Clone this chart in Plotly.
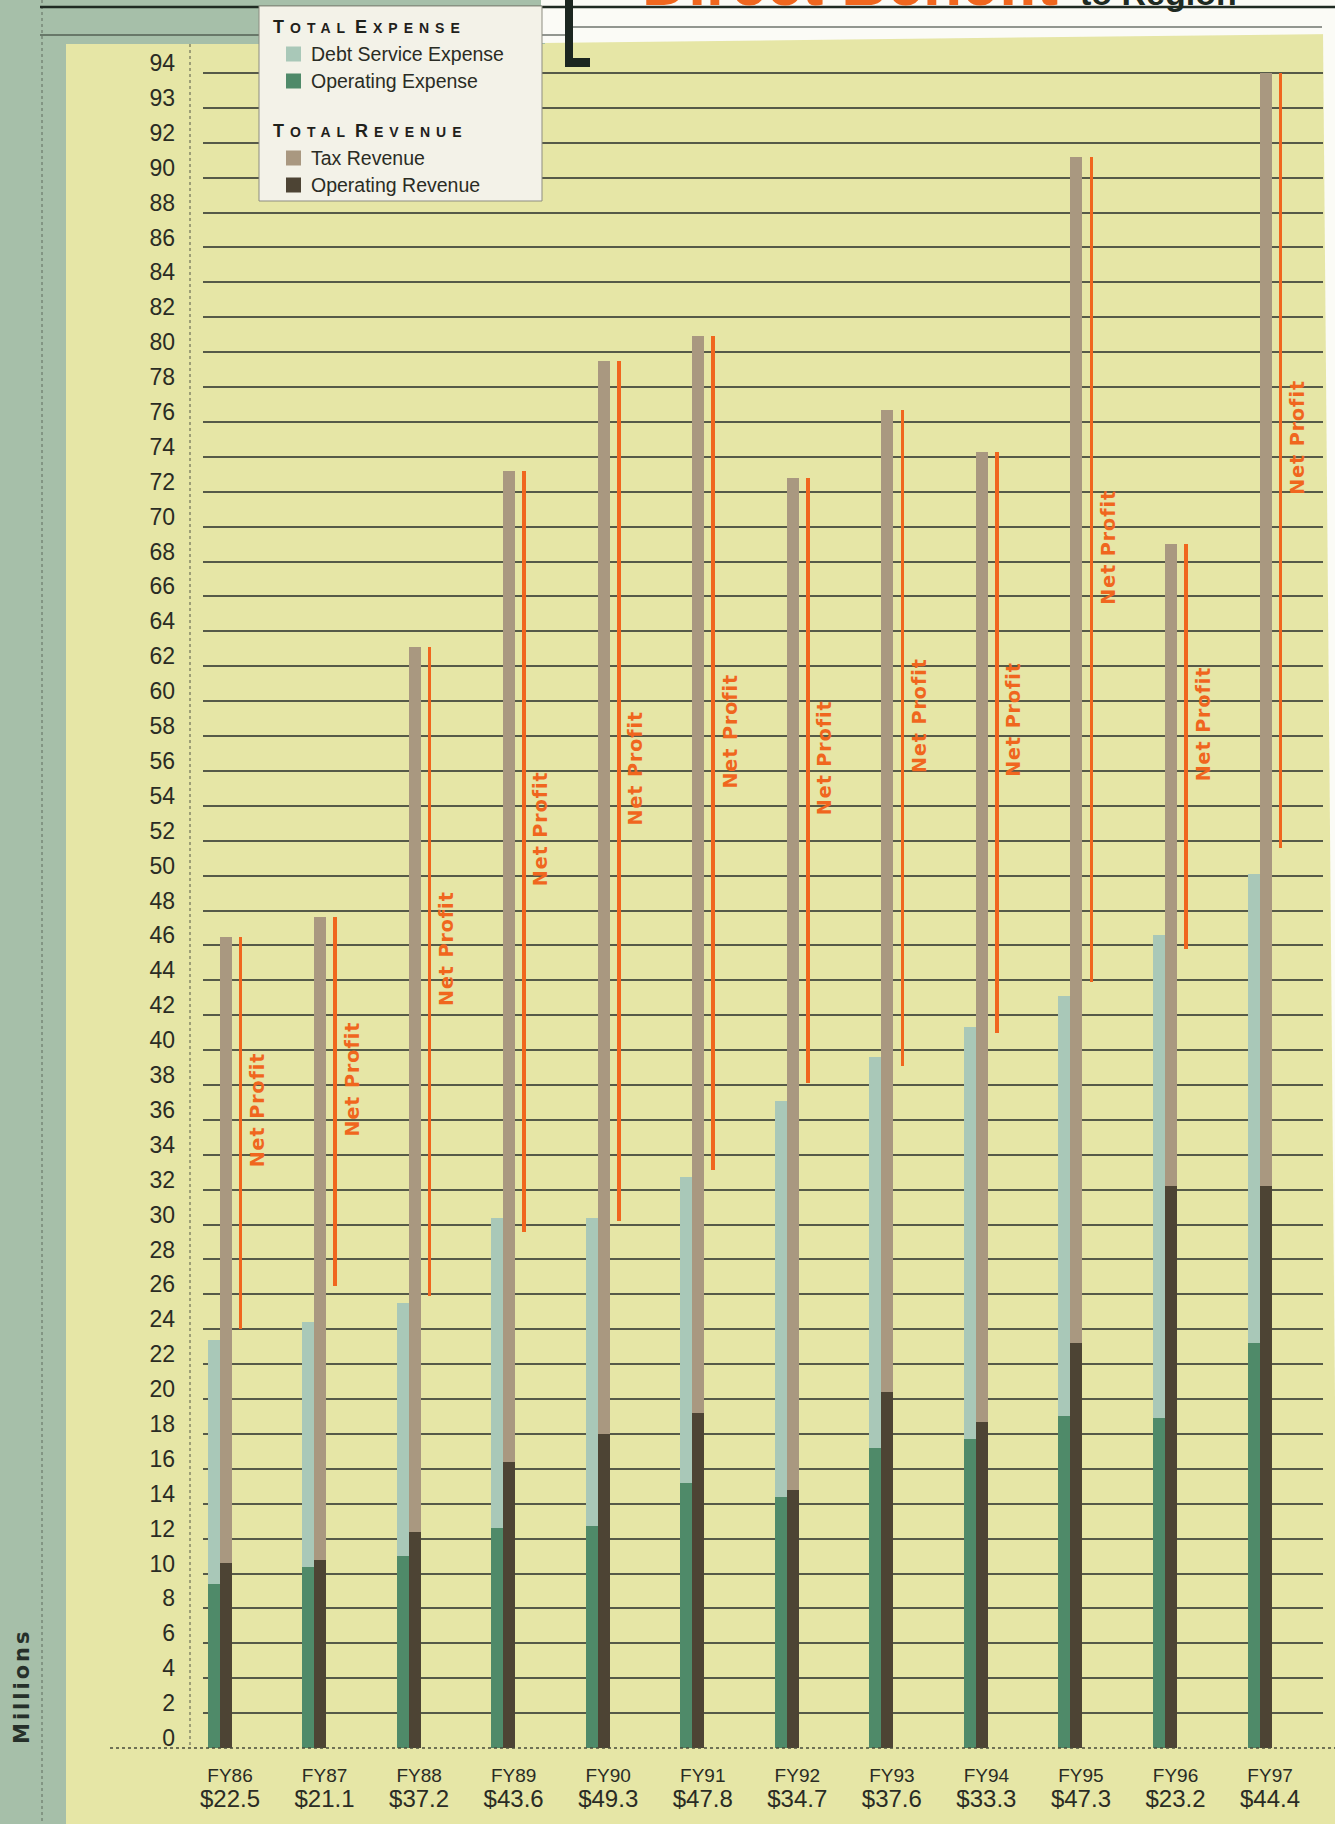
import plotly.graph_objects as go

# ---- values, in millions of dollars ----
fiscal_years = ["FY86", "FY87", "FY88", "FY89", "FY90", "FY91",
                "FY92", "FY93", "FY94", "FY95", "FY96", "FY97"]
net_profit = [22.5, 21.1, 37.2, 43.6, 49.3, 47.8, 34.7, 37.6, 33.3, 47.3, 23.2, 44.4]
operating_expense = [9.4, 10.4, 11.0, 12.6, 12.7, 15.2, 14.4, 17.2, 17.7, 19.0, 18.9, 23.2]
debt_service_expense = [14.0, 14.0, 14.5, 17.8, 17.7, 17.5, 22.7, 22.4, 23.6, 24.1, 27.7, 26.9]
operating_revenue = [10.6, 10.8, 12.4, 16.4, 18.0, 19.2, 14.8, 20.4, 18.7, 23.2, 32.2, 32.2]
tax_revenue = [35.9, 36.8, 50.7, 56.8, 61.5, 61.7, 58.0, 56.3, 55.6, 68.0, 36.8, 63.8]

# value-axis grid positions and the numbers printed beside them
y_tick_positions = list(range(0, 97, 2))
y_tick_labels = [str(v) for v in range(0, 91, 2)] + ["92", "93", "94"]

# ---- palette ----
YELLOW = "#e6e6a6"
SAGE = "#a6bfa9"
WHITE = "#fbfbf6"
INK = "#2a2c24"
GRID = "#565a48"
C_DEBT = "#a9c8b8"
C_OPEX = "#4f8a69"
C_TAX = "#a99880"
C_OPREV = "#4d4434"
ORANGE = "#f0661e"
LEGEND_BG = "#f3f2e8"

FONT = "Liberation Sans, Arial, sans-serif"
HEAVY = "DejaVu Sans, Liberation Sans, sans-serif"

# ---- page geometry (pixels) ----
W, H = 1335, 1824
L, R, T, B = 203, 1323, 40, 1748
UNIT_PX = 17.448              # pixels per million on the value axis
CAT_PX = 94.55                # pixels between fiscal years
FIRST_CAT_PX = 230            # centre of the FY86 label
X0 = -(FIRST_CAT_PX - L) / CAT_PX
X1 = X0 + (R - L) / CAT_PX
Y_TOP = (B - T) / UNIT_PX


def px_x(p):
    return (p - L) / (R - L)


def px_y(p):
    return (B - p) / (B - T)


# offsets of the marks inside each fiscal-year slot (category units)
EXP_OFF = -16.5 / CAT_PX
REV_OFF = -4.5 / CAT_PX
NP_OFF = 10.5 / CAT_PX
NP_TEXT_OFF = 27.0 / CAT_PX
BAR_W = 12.0 / CAT_PX
NP_W = 3.6 / CAT_PX

idx = list(range(len(fiscal_years)))
revenue_total = [a + b for a, b in zip(operating_revenue, tax_revenue)]
profit_base = [r - n for r, n in zip(revenue_total, net_profit)]

fig = go.Figure()


def add_column(name, xs, ys, base, width, color):
    fig.add_trace(go.Bar(
        name=name, x=xs, y=ys, base=base, width=width,
        marker=dict(color=color, line=dict(width=0)),
        hovertemplate="%{y:.1f}<extra>" + name + "</extra>",
    ))


exp_x = [i + EXP_OFF for i in idx]
rev_x = [i + REV_OFF for i in idx]
add_column("Operating Expense", exp_x, operating_expense, [0] * len(idx), BAR_W, C_OPEX)
add_column("Debt Service Expense", exp_x, debt_service_expense, operating_expense, BAR_W, C_DEBT)
add_column("Operating Revenue", rev_x, operating_revenue, [0] * len(idx), BAR_W, C_OPREV)
add_column("Tax Revenue", rev_x, tax_revenue, operating_revenue, BAR_W, C_TAX)
add_column("Net Profit", [i + NP_OFF for i in idx], net_profit, profit_base, NP_W, ORANGE)

annotations = []
shapes = []

# rotated "Net Profit" captions beside each orange bar
for i in idx:
    mid = profit_base[i] + net_profit[i] / 2
    annotations.append(dict(
        x=i + NP_TEXT_OFF, y=mid + 1.3, xref="x", yref="y",
        xanchor="center", yanchor="middle",
        text="<b><span style='letter-spacing:1px'>Net Profit</span></b>",
        textangle=-90, showarrow=False,
        font=dict(family=HEAVY, size=19, color=ORANGE),
    ))

# category labels: year over net profit
x_tick_text = [f"{fy}<br><span style='font-size:24px'>${v:.1f}</span>"
               for fy, v in zip(fiscal_years, net_profit)]


def rect(x0, y0, x1, y1, color, layer="below", line=None):
    shapes.append(dict(
        type="rect", xref="paper", yref="paper",
        x0=px_x(x0), x1=px_x(x1), y0=px_y(y0), y1=px_y(y1),
        fillcolor=color, line=line or dict(width=0), layer=layer,
    ))


def seg(x0, y0, x1, y1, color, width, dash="solid", layer="below"):
    shapes.append(dict(
        type="line", xref="paper", yref="paper",
        x0=px_x(x0), x1=px_x(x1), y0=px_y(y0), y1=px_y(y1),
        line=dict(color=color, width=width, dash=dash), layer=layer,
    ))


def poly(points, color, layer="below"):
    path = "M " + " L ".join(f"{px_x(a)},{px_y(b)}" for a, b in points) + " Z"
    shapes.append(dict(type="path", xref="paper", yref="paper", path=path,
                       fillcolor=color, line=dict(width=0), layer=layer))


# page panels around the yellow chart board
rect(0, 0, 66, H, SAGE)
rect(0, 0, 545, 44, SAGE)
poly([(541, 0), (W, 0), (W, 34), (541, 43)], WHITE)
poly([(1323, 30), (W, 30), (W, 1400)], WHITE)

# rules along the top of the page
seg(40, 7, W, 7, "#1f2a22", 2.6, layer="above")
seg(40, 35, 566, 35, "#2a332b", 1.2, layer="above")
seg(573, 27, 1322, 27, "#2a332b", 1.2, layer="above")

# dotted guides
seg(42, 0, 42, H, "#6c7a6c", 1.2, dash="dot")
seg(190, 44, 190, B, "#6d6f58", 1.2, dash="dot")
seg(110, B, W, B, "#4a4c3c", 1.4, dash="dot", layer="above")

# "L" bracket beside the legend
rect(565, 0, 573, 67, "#1c2620", layer="above")
rect(565, 58, 590, 67, "#1c2620", layer="above")

# legend box
rect(259, 6, 542, 201, LEGEND_BG, layer="above", line=dict(color="#8d8d80", width=1))


def small_caps(words):
    parts = []
    for w in words:
        parts.append(
            f"<span style='font-size:18px;letter-spacing:6px'>{w[0]}</span>"
            f"<span style='font-size:14px;letter-spacing:6px'>{w[1:]}</span>")
    return "<b>" + "<span style='font-size:14px'> </span>".join(parts) + "</b>"


legend_rows = [
    ("head", "TOTAL EXPENSE", 27, None),
    ("item", "Debt Service Expense", 54, C_DEBT),
    ("item", "Operating Expense", 81, C_OPEX),
    ("head", "TOTAL REVENUE", 131, None),
    ("item", "Tax Revenue", 158, C_TAX),
    ("item", "Operating Revenue", 185, C_OPREV),
]
for kind, label, yc, color in legend_rows:
    if kind == "head":
        annotations.append(dict(
            x=px_x(271), y=px_y(yc), xref="paper", yref="paper",
            xanchor="left", yanchor="middle", showarrow=False,
            text=small_caps(label.split(" ")),
            font=dict(family=FONT, size=14, color="#1f211b"),
        ))
    else:
        rect(286, yc - 7.5, 301, yc + 7.5, color, layer="above")
        annotations.append(dict(
            x=px_x(309), y=px_y(yc), xref="paper", yref="paper",
            xanchor="left", yanchor="middle", showarrow=False,
            text=label, font=dict(family=FONT, size=19.5, color=INK),
        ))

# axis caption
annotations.append(dict(
    x=px_x(22), y=px_y(1686), xref="paper", yref="paper",
    xanchor="center", yanchor="middle",
    text="<b><span style='letter-spacing:3px'>Millions</span></b>",
    textangle=-90, showarrow=False,
    font=dict(family=HEAVY, size=21, color="#26302a"),
))

# headline running off the top edge of the page
annotations.append(dict(
    x=px_x(640), y=px_y(5 - 0.35 * 64), xref="paper", yref="paper",
    xanchor="left", yanchor="middle", showarrow=False,
    text="<b>Direct Benefit</b>",
    font=dict(family=FONT, size=64, color=ORANGE),
))
annotations.append(dict(
    x=px_x(1078), y=px_y(5 - 0.35 * 34), xref="paper", yref="paper",
    xanchor="left", yanchor="middle", showarrow=False,
    text="<b>to Region</b>",
    font=dict(family=FONT, size=34, color="#1f2a22"),
))

fig.update_layout(
    width=W, height=H,
    margin=dict(l=L, r=W - R, t=T, b=H - B, pad=0),
    paper_bgcolor=YELLOW, plot_bgcolor="rgba(0,0,0,0)",
    barmode="overlay", bargap=0, showlegend=False,
    font=dict(family=FONT, color=INK),
    xaxis=dict(
        range=[X0, X1], tickmode="array", tickvals=idx, ticktext=x_tick_text,
        tickfont=dict(family=FONT, size=19, color=INK),
        showgrid=False, zeroline=False, showline=False,
        ticks="outside", ticklen=10, tickcolor="rgba(0,0,0,0)", fixedrange=True,
    ),
    yaxis=dict(
        range=[0, Y_TOP], tickmode="array", tickvals=y_tick_positions, ticktext=y_tick_labels,
        tickfont=dict(family=FONT, size=23, color=INK),
        showgrid=True, gridcolor=GRID, gridwidth=1.6,
        zeroline=True, zerolinecolor=YELLOW, zerolinewidth=3,
        showline=False, ticks="", ticklabelshift=-10, ticklabelstandoff=27,
        fixedrange=True,
    ),
    shapes=shapes, annotations=annotations,
)

fig.write_html("out.html")
